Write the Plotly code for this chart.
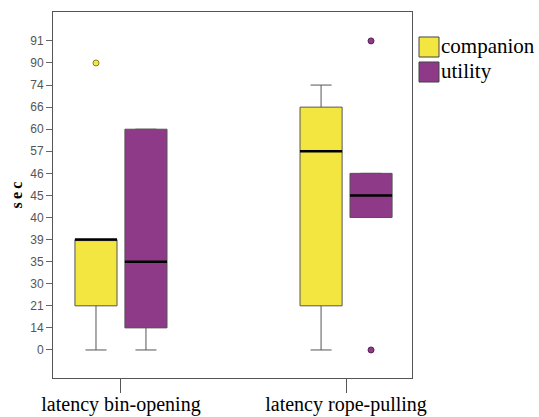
import plotly.graph_objects as go

# ---- data (SPSS-style ordinal axis: values shown at equally spaced ranks) ----
categories = ["latency bin-opening", "latency rope-pulling"]
series = ["companion", "utility"]
tick_values = [0, 14, 21, 30, 35, 39, 40, 45, 46, 57, 60, 66, 74, 90, 91]

# box statistics per series, per category (in seconds)
companion_low = [0, 0]
companion_q1 = [21, 21]
companion_med = [39, 57]
companion_q3 = [39, 66]
companion_high = [39, 74]
companion_outliers = [[90], []]

utility_low = [0, 40]
utility_q1 = [14, 40]
utility_med = [35, 45]
utility_q3 = [60, 46]
utility_high = [60, 46]
utility_outliers = [[], [0, 91]]

colors = {"companion": "#F3E640", "utility": "#8E3A89"}
outline = {"companion": "#8A8420", "utility": "#5A1F57"}

rank = {v: i for i, v in enumerate(tick_values)}
def r(lst):
    return [rank[v] for v in lst]

stats = {
    "companion": (companion_low, companion_q1, companion_med, companion_q3, companion_high, companion_outliers),
    "utility": (utility_low, utility_q1, utility_med, utility_q3, utility_high, utility_outliers),
}
offsets = {"companion": -0.111, "utility": 0.111}
box_w = 0.187

fig = go.Figure()
for s in series:
    low, q1, med, q3, high, outs = stats[s]
    xs = [i + offsets[s] for i in range(len(categories))]
    fig.add_trace(go.Box(
        x=xs, q1=r(q1), median=r(med), q3=r(q3), lowerfence=r(low), upperfence=r(high),
        width=box_w, whiskerwidth=0.5, fillcolor=colors[s],
        line=dict(color="#555555", width=1), name=s, showlegend=False,
        hoverinfo="skip",
    ))
    # thick median lines
    for x, m in zip(xs, r(med)):
        fig.add_trace(go.Scatter(
            x=[x - box_w / 2, x + box_w / 2], y=[m, m], mode="lines",
            line=dict(color="black", width=2.5), showlegend=False, hoverinfo="skip"))
    # outliers
    ox, oy = [], []
    for x, o in zip(xs, outs):
        for v in o:
            ox.append(x)
            oy.append(rank[v])
    if ox:
        fig.add_trace(go.Scatter(
            x=ox, y=oy, mode="markers",
            marker=dict(color=colors[s], size=6, line=dict(color=outline[s], width=1)),
            showlegend=False, hoverinfo="skip"))

# custom legend (layout decoration)
leg_y = [(0.9317, 0.877), (0.8634, 0.8087)]
for s, (y1, y0) in zip(series, leg_y):
    fig.add_shape(type="rect", xref="paper", yref="paper", x0=1.0195, x1=1.0752, y0=y0, y1=y1,
                  fillcolor=colors[s], line=dict(color="#444444", width=1))
    fig.add_annotation(xref="paper", yref="paper", x=1.074, y=(y0 + y1) / 2 + 0.004, text=s,
                       showarrow=False, xanchor="left", yanchor="middle",
                       font=dict(family="Liberation Serif", size=21, color="black"))

fig.update_layout(
    width=539, height=417,
    margin=dict(l=53, r=127, t=12, b=39),
    paper_bgcolor="white", plot_bgcolor="white",
    showlegend=False,
)
fig.update_xaxes(
    range=[-0.302, 1.293], tickvals=list(range(len(categories))), ticktext=categories,
    ticks="outside", ticklen=14, tickcolor="#555555", showgrid=False, zeroline=False,
    showline=True, linecolor="#555555", linewidth=1, mirror=True, automargin=False,
    ticklabelstandoff=-6,
    tickfont=dict(family="Liberation Serif", size=20, color="black"),
)
fig.update_yaxes(
    range=[-1.27, 15.31], tickvals=list(range(len(tick_values))), ticktext=[str(v) for v in tick_values],
    ticks="outside", ticklen=6, tickcolor="#666666", showgrid=False, zeroline=False,
    showline=True, linecolor="#555555", linewidth=1, mirror=True, automargin=False,
    tickfont=dict(family="Liberation Sans", size=12, color="#555555"),
    title=dict(text="<b>s&#8201;e&#8201;c</b>", font=dict(family="Liberation Serif", size=16, color="black"), standoff=3),
)

fig.write_html("out.html")
